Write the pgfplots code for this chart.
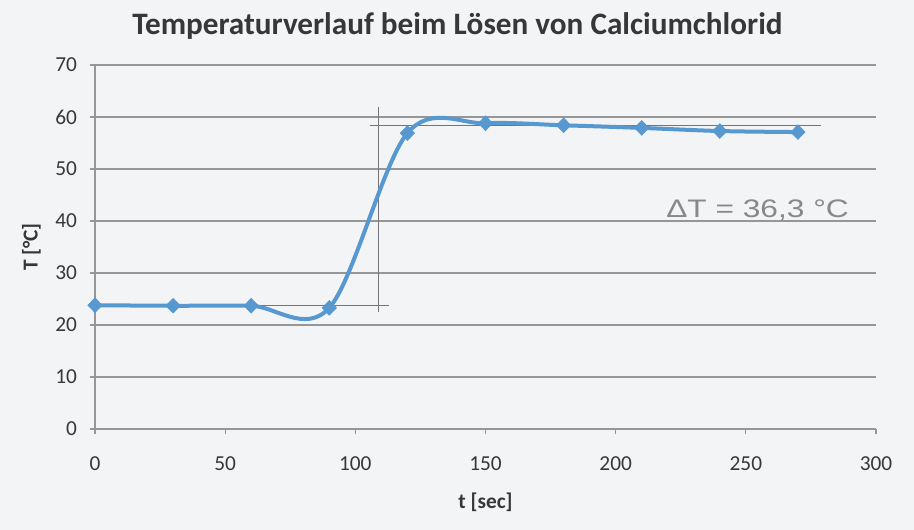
\documentclass[border=0pt]{standalone}
\usepackage{pgfplots}
\pgfplotsset{compat=1.18}
\usepackage{fontspec}
\setmainfont{Carlito}
\newfontfamily\handfont{Liberation Sans}
\definecolor{lineblue}{RGB}{88,152,208}
\definecolor{gridgray}{RGB}{150,150,150}
\definecolor{paper}{RGB}{242,244,246}
\definecolor{pencil}{RGB}{115,115,120}
\definecolor{txt}{RGB}{55,55,58}
\begin{document}
\begin{tikzpicture}[x=1pt,y=1pt]
\fill[paper] (-71.25,-75.75) rectangle (614.25,321.75);
\begin{axis}[
  at={(0,0)}, anchor=south west,
  scale only axis, width=585.75pt, height=273pt,
  xmin=0, xmax=300, ymin=0, ymax=70,
  xtick={0,50,...,300}, ytick={0,10,...,70},
  axis x line*=bottom, axis y line*=left,
  axis line style={gridgray, line width=0.8pt, -},
  ymajorgrids, grid style={gridgray, line width=0.8pt},
  tick style={gridgray, line width=0.8pt},
  tick align=outside, major tick length=4pt,
  every tick label/.append style={font=\fontsize{16}{19}\selectfont, text=txt},
  /pgf/number format/assume math mode=true,
  xticklabel style={yshift=-13pt},
  yticklabel style={xshift=-6pt},
  xlabel={\bfseries t [sec]}, ylabel={\bfseries T [°C]},
  xlabel style={font=\fontsize{16}{19}\selectfont, text=txt, yshift=-10pt},
  ylabel style={font=\fontsize{16}{19}\selectfont, text=txt, yshift=4pt},
  title={\bfseries Temperaturverlauf beim Lösen von Calciumchlorid},
  title style={font=\fontsize{23.4}{27}\selectfont, text=txt, yshift=10pt, xshift=-21pt},
  clip=false,
]
% hand-drawn pencil lines
\addplot[pencil, line width=0.6pt] coordinates {(-2,23.7) (113,23.7)};
\addplot[pencil, line width=0.6pt] coordinates {(108.7,62) (108.7,22.5)};
\addplot[pencil, line width=0.6pt] coordinates {(105.6,58.3) (279,58.3)};
\node[text=pencil!85, font=\handfont\fontsize{19}{22}\selectfont, xscale=1.25] at (axis cs:254.5,42.1) {ΔT = 36,3 °C};
% data
\addplot[lineblue, line width=3pt, smooth, tension=0.55,
  mark=diamond*, mark size=5.5pt, mark options={fill=lineblue, draw=lineblue, line width=0.5pt, xscale=1.3}]
coordinates {
(0,23.8) (30,23.7) (60,23.7) (90,23.3) (120,56.9) (150,58.8) (180,58.4) (210,57.9) (240,57.3) (270,57.1)
};
\end{axis}
\pgfresetboundingbox
\useasboundingbox (-71.25,-75.75) rectangle (614.25,321.75);
\end{tikzpicture}
\end{document}
